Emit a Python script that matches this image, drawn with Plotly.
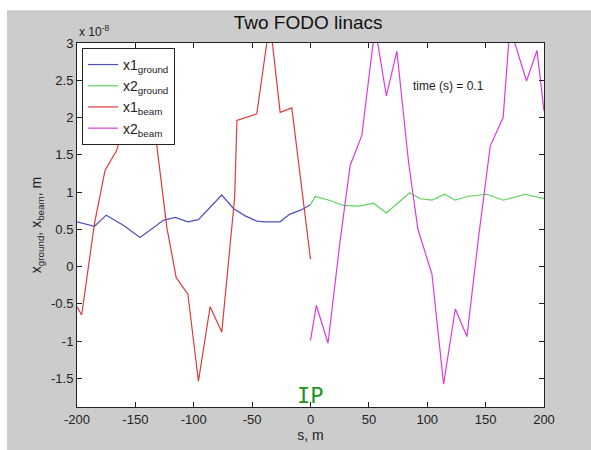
import plotly.graph_objects as go

# values in units of 1e-8 m
s_x1g = [-200, -185, -175, -160, -146, -126, -116, -105, -96, -76, -66, -56, -46, -39, -26, -18, -8, 0]
x1_ground = [0.60, 0.54, 0.69, 0.55, 0.39, 0.62, 0.66, 0.60, 0.63, 0.96, 0.78, 0.68, 0.61, 0.60, 0.60, 0.70, 0.76, 0.83]

s_x2g = [0, 4, 16, 28, 42, 54, 65, 75, 85, 94, 104, 115, 124, 134, 151, 165, 175, 184, 200]
x2_ground = [0.83, 0.94, 0.89, 0.82, 0.81, 0.85, 0.72, 0.86, 0.99, 0.91, 0.89, 0.97, 0.89, 0.94, 0.97, 0.89, 0.93, 0.97, 0.91]

s_x1b = [-200, -196, -185, -176, -166, -158, -150, -142, -132, -123, -115, -105, -96, -86, -76, -65, -63, -46, -37, -33, -26, -16, 0]
x1_beam = [-0.54, -0.65, 0.58, 1.29, 1.56, 2.0, 2.6, 2.2, 1.67, 0.52, -0.15, -0.37, -1.54, -0.54, -0.88, 0.92, 1.96, 2.05, 3.05, 3.05, 2.07, 2.13, 0.10]

s_x2b = [0, 5, 15, 25, 34, 44, 54, 57, 65, 74, 84, 92, 104, 114, 124, 134, 144, 154, 165, 170, 174, 185, 194, 200]
x2_beam = [-0.99, -0.52, -1.03, 0.30, 1.36, 1.76, 3.05, 3.05, 2.29, 2.89, 1.40, 0.50, -0.10, -1.58, -0.57, -0.94, 0.40, 1.62, 2.00, 3.05, 3.05, 2.49, 2.90, 2.09]

x_ticks = [-200, -150, -100, -50, 0, 50, 100, 150, 200]
x_ticktext = ["-200", "-150", "-100", "-50", "0", "50", "100", "150", "200"]
y_ticks = [-1.5, -1, -0.5, 0, 0.5, 1, 1.5, 2, 2.5, 3]
y_ticktext = ["-1.5", "-1", "-0.5", "0", "0.5", "1", "1.5", "2", "2.5", "3"]

FONT = "Liberation Sans, Arial, sans-serif"
TXT = "#222222"

fig = go.Figure()
fig.add_trace(go.Scatter(x=s_x1g, y=x1_ground, mode="lines", name="x1<sub>ground</sub>",
                         line=dict(color="rgb(80,80,190)", width=1.2)))
fig.add_trace(go.Scatter(x=s_x2g, y=x2_ground, mode="lines", name="x2<sub>ground</sub>",
                         line=dict(color="rgb(90,210,90)", width=1.2)))
fig.add_trace(go.Scatter(x=s_x1b, y=x1_beam, mode="lines", name="x1<sub>beam</sub>",
                         line=dict(color="rgb(220,60,60)", width=1.2)))
fig.add_trace(go.Scatter(x=s_x2b, y=x2_beam, mode="lines", name="x2<sub>beam</sub>",
                         line=dict(color="rgb(220,60,220)", width=1.2)))

W, H = 591, 450
L, R, T, B = 77, 47, 43, 39
pw, ph = W - L - R, H - T - B

def px_x(p):
    return (p - L) / pw

def px_y(p):
    return (H - B - p) / ph

fig.update_layout(
    width=W, height=H,
    margin=dict(l=L, r=R, t=T, b=B),
    paper_bgcolor="rgb(204,204,204)",
    plot_bgcolor="white",
    font=dict(family=FONT, size=13, color=TXT),
    title=dict(text="Two FODO linacs", x=0.495, xref="paper", xanchor="center",
               y=1 - 22 / H, yref="container", yanchor="middle",
               font=dict(size=19, color="#111111", family=FONT)),
    showlegend=True,
    legend=dict(x=px_x(82), y=px_y(48), xanchor="left", yanchor="top",
                bgcolor="white", bordercolor="#222222", borderwidth=1,
                font=dict(size=14, color=TXT, family=FONT),
                tracegroupgap=0, itemwidth=30),
    xaxis=dict(range=[-200, 200], tickvals=x_ticks, ticktext=x_ticktext,
               ticks="inside", ticklen=5, tickcolor="#222222",
               showline=True, linecolor="#222222", linewidth=1, mirror="ticks",
               showgrid=False, zeroline=False,
               tickfont=dict(size=13, color=TXT),
               title=dict(text="s, m", standoff=2, font=dict(size=14, color=TXT))),
    yaxis=dict(range=[-1.885, 3], tickvals=y_ticks, ticktext=y_ticktext,
               ticks="inside", ticklen=5, tickcolor="#222222",
               showline=True, linecolor="#222222", linewidth=1, mirror="ticks",
               showgrid=False, zeroline=False,
               tickfont=dict(size=13, color=TXT),
               title=dict(text="x<sub>ground</sub>, x<sub>beam</sub>, m", standoff=6,
                          font=dict(size=14, color=TXT))),
)

# white outer borders (top and left) like the source image
fig.add_shape(type="rect", xref="paper", yref="paper", x0=px_x(-5), x1=px_x(7), y0=px_y(460), y1=px_y(-5),
              fillcolor="white", line=dict(width=0), layer="below")
fig.add_shape(type="rect", xref="paper", yref="paper", x0=px_x(-5), x1=px_x(600), y0=px_y(10), y1=px_y(-5),
              fillcolor="white", line=dict(width=0), layer="below")

fig.add_annotation(text="x 10<sup>-8</sup>", xref="paper", yref="paper", x=px_x(77), y=px_y(31),
                   xanchor="left", yanchor="middle", showarrow=False,
                   font=dict(size=12, color=TXT, family=FONT))
fig.add_annotation(text="time (s) = 0.1", xref="x", yref="y", x=118.6, y=2.42,
                   xanchor="center", yanchor="middle", showarrow=False,
                   font=dict(size=12, color=TXT, family=FONT))
fig.add_annotation(text="IP", xref="x", yref="y", x=0, y=-1.73,
                   xanchor="center", yanchor="middle", showarrow=False,
                   font=dict(size=22, color="rgb(30,150,30)", family="DejaVu Sans Mono, monospace"))

fig.write_html("out.html")
